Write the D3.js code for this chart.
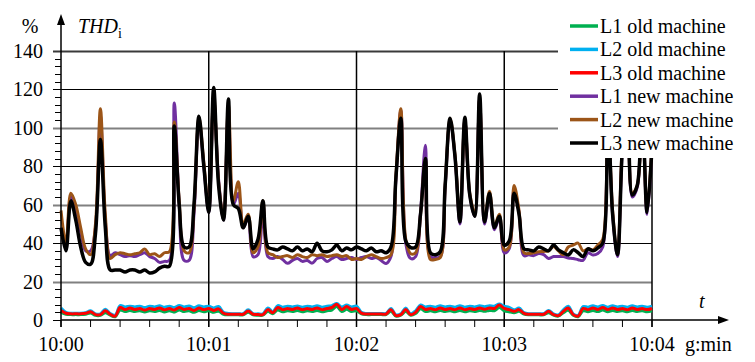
<!DOCTYPE html>
<html>
<head>
<meta charset="utf-8">
<script src="https://cdn.jsdelivr.net/npm/d3@7"></script>
<style>
body { margin: 0; background: #fff; }
</style>
</head>
<body>
<div id="chart"></div>
<script>
// samples every 2 s, starting 10:00:00
var seconds = d3.range(0, 241, 2);

var l1Old = [4,3,2.8,2.8,2.8,3,3.6,2.4,2.4,3.8,
    2.5,1.7,5.2,4.4,5,4.4,4.8,4.2,4.8,4.4,
    5,4.2,4.8,4.1,5.2,4.4,4.8,4,5,4.3,
    4.8,4,4.6,3,2.7,2.7,2.7,2.7,4,2.7,
    2.5,2.5,4.5,3.3,5.2,4.3,4.8,4.4,5,4.3,
    4.8,4.4,5,4.3,4.8,5.2,7,4.4,5.6,4.4,
    4.8,3.2,2.8,2.8,2.8,2.8,2.8,4.5,2,2.5,
    4.4,2.5,3.4,5.8,4.4,4.8,4.3,5,4.4,4.8,
    4.3,5,4.3,4.8,4.4,5,4.5,5,4.8,6.5,
    4.8,4.3,3.8,4.5,3.1,2.7,2.7,2.7,2.7,3.8,
    2.5,2,3.8,5,2.5,1.7,4.8,4.3,5,4.4,
    5.2,4.3,5,4.4,4.8,4.3,5,4.4,4.8,4.3,
    4.8];
var l2Old = [6.2,4,3.5,3.5,3.5,3.8,4.8,3.2,3.2,5.6,
    3.4,2.5,7.5,6.8,7.2,6.8,7.2,6.5,7.2,6.8,
    7.4,6.6,7.2,6.5,7.5,6.8,7.3,6.4,7.4,6.8,
    7.2,6.3,7,4,3.4,3.3,3.3,3.3,5.3,3.3,
    3.2,3.2,6.3,4.3,7.5,6.7,7.2,6.8,7.3,6.7,
    7.2,6.8,7.4,6.7,7.2,7.5,8.6,6.8,7.8,6.8,
    7.2,4,3.4,3.4,3.4,3.4,3.4,6,2.7,3.2,
    6.2,3.2,4.8,7.8,6.8,7.2,6.7,7.4,6.8,7.2,
    6.7,7.4,6.7,7.2,6.8,7.4,6.9,7.4,7.2,8.3,
    7.2,6.6,5.3,6.2,3.9,3.3,3.3,3.3,3.3,5,
    3.2,2.7,5.3,7.2,3.2,2.4,7,6.7,7.4,6.8,
    7.5,6.7,7.4,6.8,7.2,6.7,7.4,6.8,7.2,6.7,
    7.2];
var l3Old = [5,3.5,3.2,3.2,3.2,3.5,4.3,2.8,2.8,4.8,
    3,2,6.5,5.5,6.2,5.5,6,5.2,6,5.5,
    6.3,5.3,6,5.2,6.5,5.5,6,5,6.2,5.4,
    6,5,5.8,3.5,3,3,3,3,4.7,3,
    2.8,2.8,5.4,3.8,6.5,5.4,6,5.5,6.2,5.4,
    6,5.5,6.3,5.4,6,6.5,8.2,5.5,7,5.5,
    6,3.6,3.1,3.1,3.1,3.1,3.1,5.4,2.3,2.8,
    5.4,2.8,4,7,5.5,6,5.4,6.2,5.5,6,
    5.4,6.3,5.4,6,5.5,6.2,5.6,6.3,6,7.8,
    6,5.4,4.5,5.4,3.5,3,3,3,3,4.5,
    2.8,2.3,4.5,6.2,2.8,2,6,5.4,6.3,5.5,
    6.5,5.4,6.3,5.5,6,5.4,6.2,5.5,6,5.4,
    6];
var l1New = [48,38,64,58,46,36,36,48,106,52,
    33.5,35,34,33,33.5,33,34,35,33,32,
    30,30.5,31,113,60,31,31,55,104,80,
    56,115,73,52,110,60,66,48,53,33,
    34,61,33,32,33,31.5,29.5,31,32,30.5,
    31,29.6,32,32.5,30.5,32,33,31.5,32,32.5,
    31.5,32.5,33,32,32.5,31,29.4,33,73,109,
    40,32,33,56,91,33,32.5,33,69,104,
    85,50,104,65,54,115,50,65,47,53,
    35,37,68,56,33.5,33.9,33.5,34.6,34,32,
    33,33,33,32.3,32,31.4,31,35,33.8,34.6,
    38,108,55,33,90,113,64,69,110,55,
    90];
var l2New = [57,40,66,60,48,37,34,50,110,55,
    32,34,35,34.5,34,34.5,35,37,34,34.5,
    33,35,35.5,103,62,36,35,58,105.5,82,
    57,117,72,53,112,62,72,50,55,35,
    38,62,35,34,32.5,33,33.5,32.5,34,33,
    32.5,34,33.5,34,33,33.5,34,33,33.5,31.5,
    32,31.5,33,34,33,32,32.5,34,75,110,
    42,34.5,35,55,84,31.5,31.5,32.5,70,105,
    86,52,104,66,56,115,52,67,49,55,
    36.5,38,70,57,35,34.6,35,35.5,35.7,36,
    38.3,36,34,38,39,40,36,37,36.5,39,
    42,112,57,34.5,92,112,66,70,108,57,
    92];
var l3New = [48,36,62,52,38,30,29,45,94,48,
    26,26,26,25,26,26,25,26,24.5,25,
    27,28,28,101,60,38,38,60,106,80,
    56,121,70,52,115,60,58,48,54,37,
    42,62,38,37,36.5,38,37,36,38,36,
    37,35.5,40,36,35.5,36.5,39,36,37.5,36.5,
    38,37,36,37.5,35.5,36,35,38,74,105,
    41,37.7,38,55,84,35,34,35.5,70,105,
    85,51,105.5,65,54,117.6,51,66,48,54,
    39,41,66,55,37,36.5,36,38,37,36,
    39,36.5,35,33.8,36.5,35,33,37,36,37.5,
    40,110,55,34,90,115,65,70,110,56,
    90];

var seriesNames = ["L1 old machine", "L2 old machine", "L3 old machine",
    "L1 new machine", "L2 new machine", "L3 new machine"];
var seriesValues = [l1Old, l2Old, l3Old, l1New, l2New, l3New];
var seriesColors = ["#00B050", "#00B0F0", "#FF0000", "#7030A0", "#9C5518", "#000000"];

var xTickValues = [0, 60, 120, 180, 240];
var xTickLabels = ["10:00", "10:01", "10:02", "10:03", "10:04"];
var yTickValues = [0, 20, 40, 60, 80, 100, 120, 140];

var width = 755;
var height = 362;
var margin = { left: 61, right: 103, top: 51, bottom: 42 };

var svg = d3.select('#chart')
    .append('svg')
    .attr('width', width)
    .attr('height', height)
    .attr('font-family', 'Liberation Serif');

var x = d3.scaleLinear()
    .domain([0, 240])
    .range([margin.left, width - margin.right]);
var y = d3.scaleLinear()
    .domain([0, 140])
    .range([height - margin.bottom, margin.top]);

// horizontal grid, alternating dark and grey as in the original
var gridg = svg.append('g');
gridg.selectAll('line.h')
    .data(yTickValues.filter(d => d > 0))
    .enter()
    .append('line')
    .attr('x1', margin.left - 8)
    .attr('x2', x(240))
    .attr('y1', d => Math.round(y(d)) + 0.5)
    .attr('y2', d => Math.round(y(d)) + 0.5)
    .attr('stroke', d => d == 140 ? '#3a3a3a' : (d % 40 == 0 ? '#000' : '#808080'))
    .attr('stroke-width', d => d % 40 == 0 && d != 140 ? 1 : 2);

// y ticks
var minorY = d3.range(0, 141, 4).filter(d => d % 20 != 0);
gridg.selectAll('line.ym')
    .data(minorY)
    .enter()
    .append('line')
    .attr('x1', margin.left - 6)
    .attr('x2', margin.left)
    .attr('y1', d => Math.round(y(d)) + 0.5)
    .attr('y2', d => Math.round(y(d)) + 0.5)
    .attr('stroke', '#000');
gridg.append('line')
    .attr('x1', margin.left - 8).attr('x2', margin.left)
    .attr('y1', Math.round(y(0)) + 0.5).attr('y2', Math.round(y(0)) + 0.5)
    .attr('stroke', '#000');

// vertical grid
gridg.selectAll('line.v')
    .data(xTickValues.filter(d => d > 0))
    .enter()
    .append('line')
    .attr('x1', d => x(d))
    .attr('x2', d => x(d))
    .attr('y1', y(140))
    .attr('y2', y(0) + 7)
    .attr('stroke', '#000')
    .attr('stroke-width', 1.5);

// x ticks every 12 s
gridg.selectAll('line.xt')
    .data(d3.range(0, 241, 12))
    .enter()
    .append('line')
    .attr('x1', d => x(d))
    .attr('x2', d => x(d))
    .attr('y1', y(0))
    .attr('y2', y(0) + 7)
    .attr('stroke', '#000')
    .attr('stroke-width', 1);

// series
var line = d3.line()
    .x((d, i) => x(seconds[i]))
    .y(d => y(d))
    .curve(d3.curveCatmullRom.alpha(0.5));

var lineg = svg.append('g');
lineg.selectAll('path')
    .data(seriesValues)
    .enter()
    .append('path')
    .attr('d', d => line(d))
    .attr('fill', 'none')
    .attr('stroke', (d, i) => seriesColors[i])
    .attr('stroke-width', (d, i) => i == 5 ? 3.5 : 3)
    .attr('stroke-linejoin', 'round');

// axes with arrows
var axisg = svg.append('g');
axisg.append('line')
    .attr('x1', margin.left).attr('x2', margin.left)
    .attr('y1', y(0) + 7).attr('y2', 22)
    .attr('stroke', '#000').attr('stroke-width', 1.5);
axisg.append('path')
    .attr('d', 'M' + margin.left + ',14 L' + (margin.left - 4) + ',25 L' + (margin.left + 4) + ',25 Z')
    .attr('fill', '#000');
axisg.append('line')
    .attr('x1', margin.left).attr('x2', 720)
    .attr('y1', y(0)).attr('y2', y(0))
    .attr('stroke', '#000').attr('stroke-width', 1.5);
axisg.append('path')
    .attr('d', 'M729,' + y(0) + ' L718,' + (y(0) - 4) + ' L718,' + (y(0) + 4) + ' Z')
    .attr('fill', '#000');

axisg.selectAll('text.yl')
    .data(yTickValues)
    .enter()
    .append('text')
    .attr('x', 43)
    .attr('y', d => y(d))
    .attr('dy', '0.35em')
    .attr('text-anchor', 'end')
    .attr('font-size', 20)
    .text(d => d);

axisg.selectAll('text.xl')
    .data(xTickValues)
    .enter()
    .append('text')
    .attr('x', d => x(d))
    .attr('y', 351)
    .attr('text-anchor', 'middle')
    .attr('font-size', 20)
    .text((d, i) => xTickLabels[i]);

axisg.append('text')
    .attr('x', 685).attr('y', 351)
    .attr('font-size', 20)
    .text('g:min');
axisg.append('text')
    .attr('x', 699).attr('y', 308)
    .attr('font-size', 20)
    .attr('font-style', 'italic')
    .text('t');
axisg.append('text')
    .attr('x', 30).attr('y', 33)
    .attr('text-anchor', 'middle')
    .attr('font-size', 20)
    .text('%');
var thd = axisg.append('text')
    .attr('x', 78).attr('y', 33)
    .attr('font-size', 20);
thd.append('tspan').attr('font-style', 'italic').text('THD');
thd.append('tspan').attr('font-size', 14).attr('dy', 5).text('i');

// legend
var legend = svg.append('g');
legend.append('rect')
    .attr('x', 558).attr('y', 12)
    .attr('width', 197).attr('height', 146)
    .attr('fill', '#fff');
var items = legend.selectAll('g.item')
    .data(seriesNames)
    .enter()
    .append('g')
    .attr('transform', (d, i) => 'translate(570,' + (26 + i * 23.4) + ')');
items.append('line')
    .attr('x1', 0).attr('x2', 28)
    .attr('stroke', (d, i) => seriesColors[i])
    .attr('stroke-width', 3.5);
items.append('text')
    .attr('x', 30)
    .attr('dy', '0.35em')
    .attr('font-size', 20)
    .text(d => d);
</script>
</body>
</html>
